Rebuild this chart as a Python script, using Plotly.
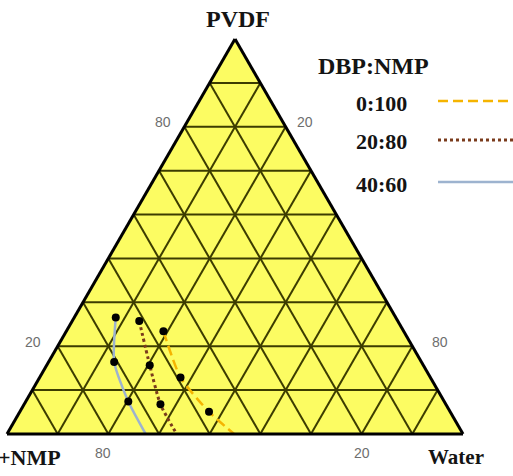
import plotly.graph_objects as go

# Ternary composition (wt%): a = PVDF, b = DBP+NMP (diluent), c = Water
series_names = ["0:100", "20:80", "40:60"]

# Measured cloud points for each DBP:NMP ratio
pvdf_pts = [[26.0, 14.3, 5.6], [28.6, 17.4, 7.5], [29.5, 18.2, 8.2]]
water_pts = [[21.3, 30.9, 41.5], [14.7, 22.6, 29.9], [9.1, 14.4, 22.5]]

# Binodal curves through the cloud points, continued to the PVDF-free edge
pvdf_curve = [[26.0, 14.3, 5.6, 0.0], [28.6, 17.4, 7.5, 0.0], [29.5, 18.2, 8.2, 0.0]]
water_curve = [[21.3, 30.9, 41.5, 49.8], [14.7, 22.6, 29.9, 37.2], [9.1, 14.4, 22.5, 30.4]]

# Grid divisions
n_div = 9

# Axis tick labels: PVDF (left edge), Water (right edge), DBP+NMP (bottom edge)
pvdf_ticks = ["80", "20"]
water_ticks = ["20", "80"]
solvent_ticks = ["80", "20"]

colors = ["#F5B400", "#7A3B1C", "#9DB3CF"]
dashes = ["10px,5px", "dot", "solid"]
widths = [2.5, 3, 2.5]

W, H = 513, 476

fig = go.Figure()

for i, name in enumerate(series_names):
    a = pvdf_curve[i]
    c = water_curve[i]
    b = [100 - x - y for x, y in zip(a, c)]
    fig.add_trace(go.Scatterternary(
        a=a, b=b, c=c, mode="lines", name=name, showlegend=False,
        line=dict(color=colors[i], dash=dashes[i], width=widths[i], shape="spline", smoothing=0.6),
        hoverinfo="skip",
    ))

for i, name in enumerate(series_names):
    a = pvdf_pts[i]
    c = water_pts[i]
    b = [100 - x - y for x, y in zip(a, c)]
    fig.add_trace(go.Scatterternary(
        a=a, b=b, c=c, mode="markers", name=name, showlegend=False,
        marker=dict(color="black", size=8),
    ))

tickvals = [100 * k / n_div for k in range(1, n_div)]

axis_style = dict(
    tickmode="array", tickvals=tickvals, showticklabels=False,
    showgrid=True, gridcolor="#3C3C00", gridwidth=1.5,
    showline=True, linecolor="black", linewidth=3,
    ticks="", title=dict(text=""),
)

fig.update_layout(
    width=W, height=H,
    margin=dict(l=0, r=0, t=0, b=0),
    paper_bgcolor="white",
    showlegend=False,
    ternary=dict(
        sum=100,
        bgcolor="#FCFC62",
        domain=dict(x=[7 / W, 463 / W], y=[42 / H, 437 / H]),
        aaxis=axis_style, baxis=axis_style, caxis=axis_style,
    ),
)


def px_note(x, y, text, font, xanchor="center"):
    fig.add_annotation(x=x / W, y=1 - y / H, xref="paper", yref="paper", text=text,
                       xanchor=xanchor, yanchor="middle", showarrow=False, font=font)


serif = "Liberation Serif, Times New Roman"
tick_font = dict(family="Liberation Sans, Arial", size=14, color="#6E6E6E")

# Tick labels along the three edges
for text, (x, y) in zip(pvdf_ticks, [(163, 122), (33, 342)]):
    px_note(x, y, text, tick_font)
for text, (x, y) in zip(water_ticks, [(305, 122), (440, 342)]):
    px_note(x, y, text, tick_font)
for text, (x, y) in zip(solvent_ticks, [(103, 453), (362, 453)]):
    px_note(x, y, text, tick_font)

# Vertex titles
px_note(238, 19, "<b>PVDF</b>", dict(family=serif, size=24, color="#141414"))
px_note(456, 457, "<b>Water</b>", dict(family=serif, size=21, color="#141414"))
px_note(63, 457, "<b>DBP+NMP</b>", dict(family=serif, size=22, color="#141414"), xanchor="right")

# Legend block
px_note(373, 66, "<b>DBP:NMP</b>", dict(family=serif, size=24, color="#141414"))
legend_text_y = [103, 141, 185]
legend_line_y = [101, 140, 182]
for i, name in enumerate(series_names):
    px_note(381, legend_text_y[i], "<b>" + name + "</b>", dict(family=serif, size=22, color="#141414"))
    fig.add_shape(type="line", xref="paper", yref="paper",
                  x0=438 / W, x1=1.02, y0=1 - legend_line_y[i] / H, y1=1 - legend_line_y[i] / H,
                  line=dict(color=colors[i], dash=dashes[i], width=widths[i]))

fig.write_html("out.html")
